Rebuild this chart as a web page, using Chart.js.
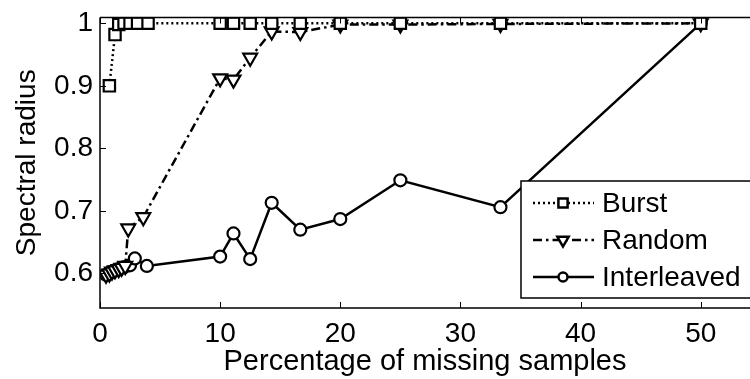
<!DOCTYPE html>
<html lang="en">
<head>
  <meta charset="UTF-8">
  <title>Spectral radius vs missing samples</title>
  <script src="https://cdn.jsdelivr.net/npm/chart.js"></script>
  <style>
    body { margin: 0; background: #fff; }
    #wrap { width: 750px; height: 379px; }
  </style>
</head>
<body>
  <div id="wrap"><canvas id="spectralChart" width="750" height="379"></canvas></div>

  <script>
    // values
    const burstX = [0.78, 1.25, 1.56, 2.0, 2.5, 3.125, 4, 10, 11.11, 12.5, 14.29, 16.67, 20, 25, 33.33, 50];
    const burstY = [0.900, 0.982, 0.998, 1, 1, 1, 1, 1, 1, 1, 1, 1, 1, 1, 1, 1];

    const randomX = [0.5, 0.78, 1.0, 1.25, 1.56, 1.8, 2.1, 2.35, 3.6, 10, 11.11, 12.5, 14.29, 16.67, 20, 25, 33.33, 50];
    const randomY = [0.598, 0.600, 0.603, 0.605, 0.607, 0.609, 0.612, 0.672, 0.690, 0.912, 0.910, 0.945, 0.987, 0.986, 0.998, 0.998, 0.999, 1.0];

    const interX = [0.5, 0.78, 1.0, 1.25, 1.56, 2.0, 2.5, 2.9, 3.9, 10, 11.11, 12.5, 14.29, 16.67, 20, 25, 33.33, 50];
    const interY = [0.598, 0.601, 0.603, 0.605, 0.607, 0.610, 0.613, 0.624, 0.612, 0.627, 0.664, 0.623, 0.713, 0.670, 0.687, 0.749, 0.706, 1.0];

    const xTicks = [0, 10, 20, 30, 40, 50];
    const yTicks = [0.6, 0.7, 0.8, 0.9, 1.0];
    const seriesNames = ['Burst', 'Random', 'Interleaved'];

    const FONT = 'Liberation Sans, Arial, sans-serif';
    const toPoints = (xs, ys) => xs.map((x, i) => ({ x: x, y: ys[i] }));

    // MATLAB style box: top line + inward ticks
    const framePlugin = {
      id: 'frame',
      afterDatasetsDraw(chart) {
        const { ctx, chartArea: a, scales } = chart;
        ctx.save();
        ctx.strokeStyle = '#000';
        ctx.lineWidth = 1.5;
        ctx.beginPath();
        ctx.moveTo(a.left, a.top); ctx.lineTo(a.right, a.top);
        ctx.moveTo(a.left, a.top); ctx.lineTo(a.left, a.bottom);
        ctx.lineTo(a.right, a.bottom);
        ctx.stroke();
        ctx.lineWidth = 1;
        ctx.beginPath();
        for (const v of xTicks) {
          const px = Math.round(scales.x.getPixelForValue(v)) + 0.5;
          ctx.moveTo(px, a.bottom); ctx.lineTo(px, a.bottom - 6);
          ctx.moveTo(px, a.top); ctx.lineTo(px, a.top + 6);
        }
        for (const v of yTicks) {
          const py = Math.round(scales.y.getPixelForValue(v)) + 0.5;
          ctx.moveTo(a.left, py); ctx.lineTo(a.left + 6, py);
        }
        ctx.stroke();
        ctx.restore();
      }
    };

    // legend box inside the plot, lower right
    const boxLegend = {
      id: 'boxLegend',
      afterDraw(chart) {
        const ctx = chart.ctx;
        const left = 521, top = 181, bottom = 298, right = 752;
        ctx.save();
        ctx.fillStyle = '#fff';
        ctx.strokeStyle = '#000';
        ctx.lineWidth = 1.5;
        ctx.fillRect(left, top, right - left, bottom - top);
        ctx.strokeRect(left, top, right - left, bottom - top);
        const rows = [203, 240, 277];
        chart.data.datasets.forEach((ds, i) => {
          const y = rows[i];
          ctx.strokeStyle = '#000';
          ctx.lineWidth = ds.borderWidth;
          ctx.setLineDash(ds.borderDash || []);
          ctx.beginPath();
          ctx.moveTo(533, y); ctx.lineTo(594, y);
          ctx.stroke();
          ctx.setLineDash([]);
          ctx.fillStyle = '#fff';
          Chart.helpers.drawPoint(ctx, {
            pointStyle: ds.pointStyle,
            radius: ds.pointRadius - 1.5,
            rotation: ds.pointRotation || 0,
            borderWidth: ds.pointBorderWidth
          }, 563, y);
          ctx.fillStyle = '#000';
          ctx.font = '28px ' + FONT;
          ctx.textBaseline = 'middle';
          ctx.fillText(ds.label, 602, y + 1);
        });
        ctx.restore();
      }
    };

    const common = {
      borderColor: '#000',
      pointBorderColor: '#000',
      pointBackgroundColor: '#fff',
      borderWidth: 2.5,
      pointBorderWidth: 2.2,
      showLine: true,
      fill: false,
      tension: 0
    };

    new Chart(document.getElementById('spectralChart'), {
      type: 'scatter',
      data: {
        datasets: [
          Object.assign({}, common, {
            label: seriesNames[0], data: toPoints(burstX, burstY),
            borderDash: [2, 3], pointStyle: 'rect', pointRadius: 8
          }),
          Object.assign({}, common, {
            label: seriesNames[1], data: toPoints(randomX, randomY),
            borderDash: [9, 4, 2.5, 4], pointStyle: 'triangle', pointRotation: 180, pointRadius: 8
          }),
          Object.assign({}, common, {
            label: seriesNames[2], data: toPoints(interX, interY),
            pointStyle: 'circle', pointRadius: 6
          })
        ]
      },
      options: {
        responsive: false,
        animation: false,
        devicePixelRatio: 1,
        layout: { autoPadding: false, padding: { top: 17.5, right: 0, left: 0, bottom: 0 } },
        plugins: { legend: { display: false }, tooltip: { enabled: false } },
        scales: {
          x: {
            type: 'linear', min: 0, max: 54.1,
            grid: { display: false, drawTicks: false }, border: { display: false },
            afterBuildTicks: s => { s.ticks = xTicks.map(v => ({ value: v })); },
            afterFit: s => { s.height = 71; s.paddingLeft = 0; s.paddingRight = 0; },
            ticks: { color: '#000', font: { size: 28, family: FONT }, padding: 9, maxRotation: 0 },
            title: { display: true, text: 'Percentage of missing samples', color: '#000',
                     font: { size: 29, family: FONT }, padding: { top: 0, bottom: 0 } }
          },
          y: {
            min: 0.5448, max: 1.0093,
            grid: { display: false, drawTicks: false }, border: { display: false },
            afterBuildTicks: s => { s.ticks = yTicks.map(v => ({ value: v })); },
            afterFit: s => { s.width = 100; s.paddingTop = 0; s.paddingBottom = 0; },
            ticks: { color: '#000', font: { size: 28, family: FONT }, padding: 7,
                     callback: v => String(Number(v.toFixed(1))) },
            title: { display: true, text: 'Spectral radius', color: '#000',
                     font: { size: 28, family: FONT }, padding: { top: 10, bottom: 0 } }
          }
        }
      },
      plugins: [framePlugin, boxLegend]
    });
  </script>
</body>
</html>
